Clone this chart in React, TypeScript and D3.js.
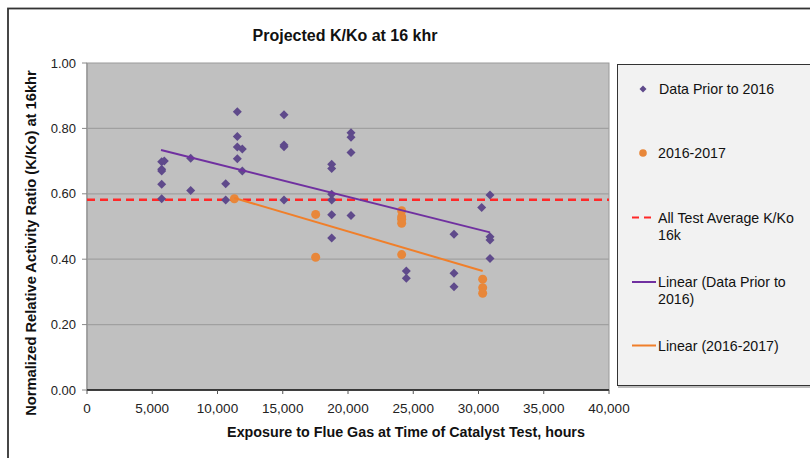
import React from "react";
import * as d3 from "d3";

const priorHours = [5724, 5724, 5724, 5724, 5724, 5924, 7944, 7944, 10628, 10628, 11517, 11517, 11517, 11517, 11900, 11900, 15096, 15096, 15096, 15096, 18749, 18749, 18749, 18749, 18749, 18749, 20230, 20230, 20230, 20230, 24470, 24470, 28123, 28123, 28123, 30244, 30881, 30881, 30881, 30881];
const priorRatio = [0.698, 0.675, 0.670, 0.629, 0.585, 0.700, 0.709, 0.610, 0.631, 0.581, 0.851, 0.775, 0.743, 0.707, 0.737, 0.670, 0.842, 0.749, 0.744, 0.581, 0.690, 0.677, 0.599, 0.581, 0.536, 0.465, 0.787, 0.773, 0.726, 0.534, 0.364, 0.342, 0.476, 0.357, 0.316, 0.558, 0.596, 0.469, 0.459, 0.402];
const recentHours = [11290, 17522, 17522, 24112, 24112, 24112, 24112, 24112, 30320, 30320, 30320];
const recentRatio = [0.585, 0.537, 0.406, 0.548, 0.530, 0.522, 0.510, 0.414, 0.339, 0.313, 0.296];
// linear trend endpoints
const priorTrendHours = [5670, 30880];
const priorTrendRatio = [0.734, 0.482];
const recentTrendHours = [11290, 30320];
const recentTrendRatio = [0.587, 0.364];
const averageRatio = 0.582;
const xTicks = [0, 5000, 10000, 15000, 20000, 25000, 30000, 35000, 40000];
const yTicks = [0, 0.2, 0.4, 0.6, 0.8, 1.0];

const FONT = "'Liberation Sans', Arial, sans-serif";
const PURPLE_PT = "#5f4a8b";
const ORANGE_PT = "#e8873a";
const PURPLE_LN = "#7030a0";
const ORANGE_LN = "#f07f2a";

export default function App() {
  const W = 810, H = 458;
  const L = 87, R = 609, T = 63, B = 390;
  const x = d3.scaleLinear().domain([0, 40000]).range([L, R]);
  const y = d3.scaleLinear().domain([0, 1]).range([B, T]);
  const trend = (hs: number[], rs: number[]) =>
    d3.line<number>().x(h => x(h)).y((_, i) => y(rs[i]))(hs)!;
  const diamond = (cx: number, cy: number, r = 4.5) => `M${cx},${cy - r}L${cx + r},${cy}L${cx},${cy + r}L${cx - r},${cy}Z`;
  const fmt = d3.format(",");
  const LF = 14.2;

  return (
    <svg width={W} height={H} style={{ position: "absolute", left: 0, top: 0, background: "#fff" }} fontFamily={FONT}>
      {/* outer frame */}
      <rect x={8} y={8.5} width={820} height={470} fill="#fff" stroke="#333" strokeWidth={1.8} />
      <text x={345} y={41} textAnchor="middle" fontSize={16} fontWeight="bold" fill="#111">Projected K/Ko at 16 khr</text>

      {/* plot area */}
      <rect x={L} y={T} width={R - L} height={B - T} fill="#c0c0c0" stroke="#9a9a9a" strokeWidth={1} />
      {yTicks.filter(t => t > 0 && t < 1).map(t => (
        <line key={t} x1={L} x2={R} y1={y(t)} y2={y(t)} stroke="#a0a0a0" strokeWidth={1.3} />
      ))}
      {/* y axis */}
      <line x1={L} x2={L} y1={T} y2={B} stroke="#9a9a9a" strokeWidth={1.5} />
      {yTicks.map(t => (
        <g key={t}>
          <line x1={L - 5} x2={L} y1={y(t)} y2={y(t)} stroke="#888" />
          <text x={L - 11} y={y(t)} dy="0.35em" textAnchor="end" fontSize={13} fill="#222">{t.toFixed(2)}</text>
        </g>
      ))}
      {/* x axis */}
      <line x1={L} x2={R} y1={B} y2={B} stroke="#111" strokeWidth={1.5} />
      {xTicks.map(t => (
        <g key={t}>
          <line x1={x(t)} x2={x(t)} y1={B} y2={B + 4} stroke="#555" />
          <text x={x(t)} y={408} dy="0.35em" textAnchor="middle" fontSize={13.5} fill="#222">{fmt(t)}</text>
        </g>
      ))}

      {/* average line */}
      <line x1={L} x2={R} y1={y(averageRatio)} y2={y(averageRatio)} stroke="#ff2828" strokeWidth={2.5} strokeDasharray="8 5" />

      {/* points */}
      {priorHours.map((h, i) => (
        <path key={"p" + i} d={diamond(x(h), y(priorRatio[i]))} fill={PURPLE_PT} />
      ))}
      {recentHours.map((h, i) => (
        <circle key={"r" + i} cx={x(h)} cy={y(recentRatio[i])} r={4.5} fill={ORANGE_PT} />
      ))}

      {/* trend lines */}
      <path d={trend(priorTrendHours, priorTrendRatio)} fill="none" stroke={PURPLE_LN} strokeWidth={2} />
      <path d={trend(recentTrendHours, recentTrendRatio)} fill="none" stroke={ORANGE_LN} strokeWidth={2} />

      {/* axis titles */}
      <text x={406} y={432} dy="0.35em" textAnchor="middle" fontSize={14.3} fontWeight="bold" fill="#111">Exposure to Flue Gas at Time of Catalyst Test, hours</text>
      <text transform="translate(31,243) rotate(-90)" textAnchor="middle" dy="0.35em" fontSize={14.7} fontWeight="bold" fill="#111">Normalized Relative Activity Ratio (K/Ko) at 16khr</text>

      {/* legend */}
      <rect x={618} y={386} width={200} height={2} fill="#bdbdbd" />
      <rect x={617.5} y={64.5} width={200} height={321} fill="#f2f2f2" stroke="#333" strokeWidth={1} />
      <path d={diamond(643, 89, 3.5)} fill={PURPLE_PT} />
      <text x={659} y={89} dy="0.35em" fontSize={LF} fill="#111">Data Prior to 2016</text>
      <circle cx={643} cy={153} r={3.8} fill={ORANGE_PT} />
      <text x={658} y={153} dy="0.35em" fontSize={LF} fill="#111">2016-2017</text>
      <line x1={632} x2={656} y1={217.5} y2={217.5} stroke="#ff2828" strokeWidth={2} strokeDasharray="7 5" />
      <text x={658} y={218} dy="0.35em" fontSize={LF} fill="#111">All Test Average K/Ko</text>
      <text x={658} y={235} dy="0.35em" fontSize={LF} fill="#111">16k</text>
      <line x1={632} x2={656} y1={282} y2={282} stroke={PURPLE_LN} strokeWidth={2} />
      <text x={658} y={282} dy="0.35em" fontSize={LF} fill="#111">Linear (Data Prior to</text>
      <text x={658} y={299} dy="0.35em" fontSize={LF} fill="#111">2016)</text>
      <line x1={632} x2={656} y1={345.5} y2={345.5} stroke={ORANGE_LN} strokeWidth={2} />
      <text x={658} y={346} dy="0.35em" fontSize={LF} fill="#111">Linear (2016-2017)</text>
    </svg>
  );
}
